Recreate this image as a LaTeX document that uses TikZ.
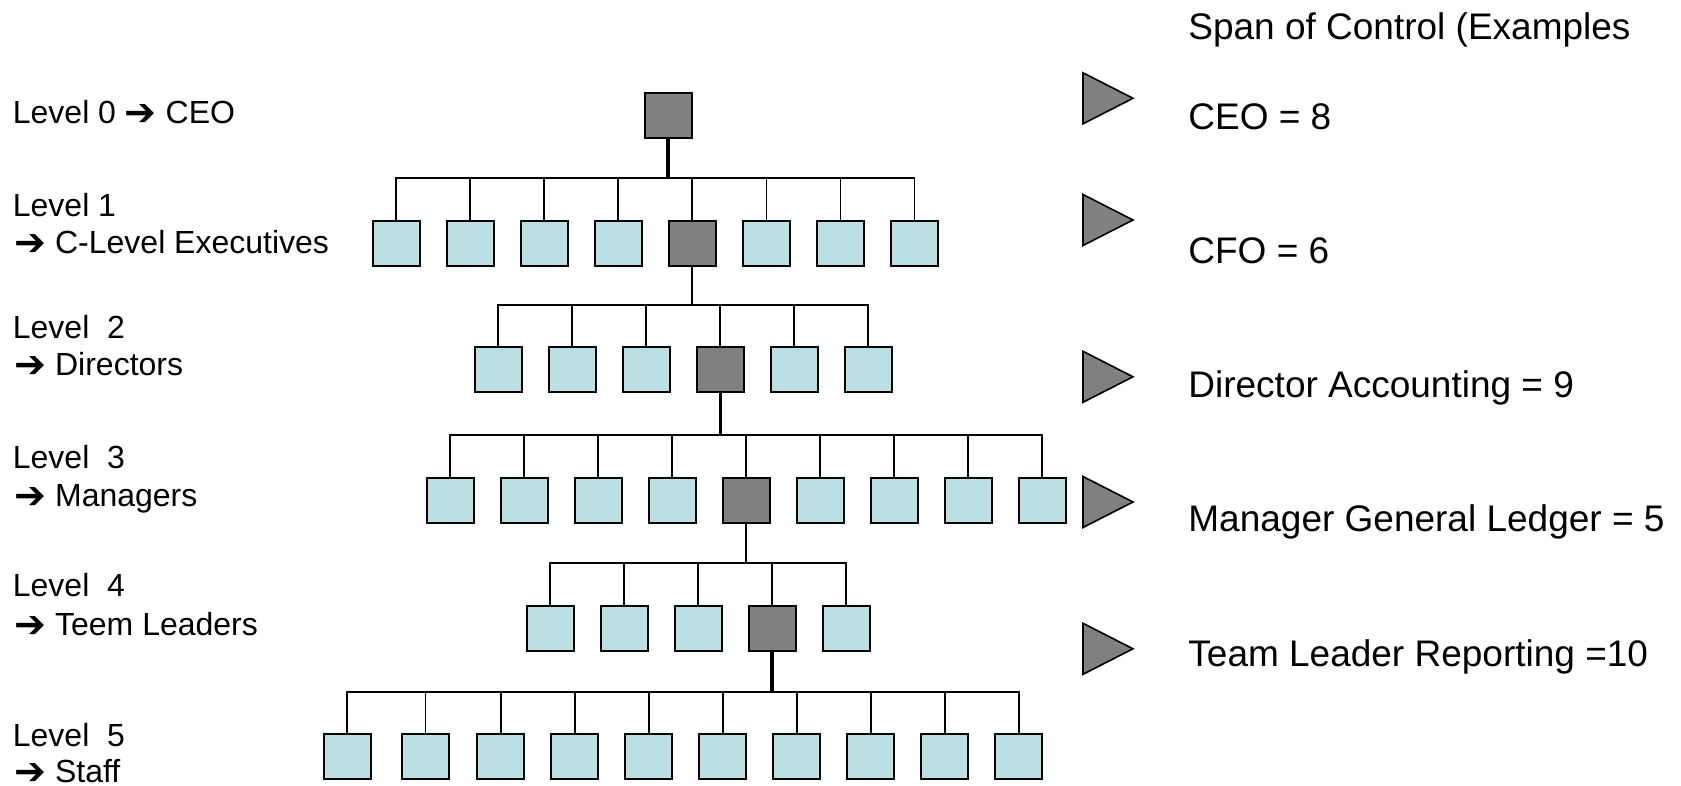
\documentclass[tikz,border=0pt]{standalone}
\usepackage{fontspec}
\setmainfont{Liberation Sans}
\newfontfamily\symf{DejaVu Sans}
\definecolor{unitblue}{HTML}{BBE0E3}
\definecolor{headgray}{HTML}{808080}
% heavy arrow used in the level captions
\newcommand\lvlarrow{\raisebox{-1pt}{\fontsize{19}{19}\symf ➔}}
\begin{document}
\begin{tikzpicture}[x=0.5pt,y=-0.5pt,
  unit/.style={draw=black, line width=1pt, fill=unitblue, minimum width=23.5pt,
    minimum height=22.5pt, inner sep=0pt, outer sep=0pt},
  head/.style={unit, fill=headgray},
  link/.style={line width=0.8pt, line join=miter},
  trunk/.style={line width=#1},
  lvl/.style={anchor=base west, inner sep=0pt, font=\fontsize{16}{19}\selectfont},
  span/.style={anchor=base west, inner sep=0pt, font=\fontsize{18.5}{22}\selectfont},
  marker/.style={draw=black, line width=0.8pt, fill=headgray, line join=miter}]
\useasboundingbox (0,0) rectangle (1681,786);

% ---- level labels on the left
\node[lvl] (l0)  at (12.5,124)   {Level 0 \lvlarrow\ CEO};
\node[lvl] (l1a) at (12.5,216.7) {Level 1};
\node[lvl] (l1b) at (14,253.3)   {\lvlarrow\ C-Level Executives};
\node[lvl] (l2a) at (12.5,338.3) {Level\ \ 2};
\node[lvl] (l2b) at (14,375.5)   {\lvlarrow\ Directors};
\node[lvl] (l3a) at (12.5,468.3) {Level\ \ 3};
\node[lvl] (l3b) at (14,506.7)   {\lvlarrow\ Managers};
\node[lvl] (l4a) at (12.5,596.7) {Level\ \ 4};
\node[lvl] (l4b) at (14,635)     {\lvlarrow\ Teem Leaders};
\node[lvl] (l5a) at (12.5,746.7) {Level\ \ 5};
\node[lvl] (l5b) at (14,782.5)   {\lvlarrow\ Staff};

% ---- organisation boxes
\node[head] (ceo) at (668,115.5) {};
\foreach \i/\x/\s in {1/396/unit,2/470/unit,3/544.1/unit,4/618.2/unit,
                      5/692.2/head,6/766.3/unit,7/840.3/unit,8/914.4/unit}
  \node[\s] (a\i) at (\x,243.5) {};
\foreach \i/\x/\s in {1/498/unit,2/572/unit,3/646/unit,4/720/head,5/794/unit,6/868/unit}
  \node[\s] (b\i) at (\x,369) {};
\foreach \i/\x/\s in {1/450/unit,2/524/unit,3/598/unit,4/672/unit,5/746/head,
                      6/820/unit,7/894/unit,8/968/unit,9/1042/unit}
  \node[\s] (m\i) at (\x,500.5) {};
\foreach \i/\x/\s in {1/550/unit,2/624/unit,3/698/unit,4/772/head,5/846/unit}
  \node[\s] (t\i) at (\x,628.5) {};
\foreach \i/\x in {1/347.2,2/425.4,3/500.8,4/574.8,5/648.8,6/722.8,7/796.8,8/870.8,9/944.8,10/1018.8}
  \node[unit] (s\i) at (\x,756) {};

% ---- reporting lines
\coordinate (barA) at (0,178);
\coordinate (barB) at (0,305);
\coordinate (barC) at (0,435);
\coordinate (barD) at (0,563);
\coordinate (barE) at (0,692);

\draw[link] (a1.north) -- (a1.north |- barA) -- (a8.north |- barA) -- (a8.north);
\foreach \i in {2,...,7} \draw[link] (a\i.north |- barA) -- (a\i.north);
\draw[trunk=1.7pt] (ceo.south) -- (ceo.south |- barA);

\draw[link] (b1.north) -- (b1.north |- barB) -- (b6.north |- barB) -- (b6.north);
\foreach \i in {2,...,5} \draw[link] (b\i.north |- barB) -- (b\i.north);
\draw[trunk=1.1pt] (a5.south) -- (a5.south |- barB);

\draw[link] (m1.north) -- (m1.north |- barC) -- (m9.north |- barC) -- (m9.north);
\foreach \i in {2,...,8} \draw[link] (m\i.north |- barC) -- (m\i.north);
\draw[trunk=1.5pt] (b4.south) -- (b4.south |- barC);

\draw[link] (t1.north) -- (t1.north |- barD) -- (t5.north |- barD) -- (t5.north);
\foreach \i in {2,...,4} \draw[link] (t\i.north |- barD) -- (t\i.north);
\draw[trunk=1.1pt] (m5.south) -- (m5.south |- barD);

\draw[link] (s1.north) -- (s1.north |- barE) -- (s10.north |- barE) -- (s10.north);
\foreach \i in {2,...,9} \draw[link] (s\i.north |- barE) -- (s\i.north);
\draw[trunk=2pt] (t4.south) -- (t4.south |- barE);

% ---- span of control markers and examples
\foreach \y in {98.3,220,376.8,502,648.8}
  \draw[marker] (1083,{\y-25.5}) -- (1133,\y) -- (1083,{\y+25.5}) -- cycle;

\node[span] (title) at (1188,39.3)  {Span of Control (Examples};
\node[span] (ex1)   at (1188,129.3) {CEO = 8};
\node[span] (ex2)   at (1188,263.3) {CFO = 6};
\node[span] (ex3)   at (1188,397.7) {Director Accounting = 9};
\node[span] (ex4)   at (1188,531.7) {Manager General Ledger = 5};
\node[span] (ex5)   at (1188,666.7) {Team Leader Reporting =10};
\end{tikzpicture}
\end{document}
